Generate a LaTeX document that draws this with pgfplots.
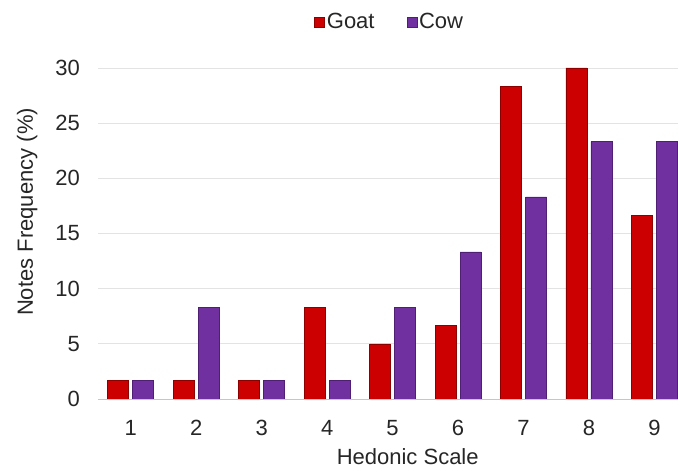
\documentclass[border=0pt]{standalone}
\usepackage{fontspec}
\setmainfont{Liberation Sans}
\usepackage{pgfplots}
\pgfplotsset{compat=1.18}
\definecolor{goat}{HTML}{CC0000}
\definecolor{goatd}{HTML}{8E0000}
\definecolor{cow}{HTML}{7030A0}
\definecolor{cowd}{HTML}{4E1F73}
\begin{document}
\begin{tikzpicture}
\begin{axis}[name=ax, scale only axis, width=580pt, height=331pt,
  ybar=4pt, bar width=21pt,
  xmin=0.5, xmax=9.36, ymin=0, ymax=30,
  xtick={1,...,9}, ytick={0,5,...,30},
  axis lines*=left,
  x axis line style={-, draw=gray!45, line width=0.8pt},
  y axis line style={draw=none},
  ymajorgrids, grid style={gray!22, line width=0.8pt},
  major tick length=0pt,
  /pgf/number format/assume math mode=true,
  tick label style={font=\fontsize{22}{26}\selectfont, inner sep=0pt, text=black!85},
  xticklabel style={yshift=-21pt},
  yticklabel style={xshift=-18pt},
  xlabel={Hedonic Scale}, ylabel={Notes Frequency (\%)},
  label style={font=\fontsize{22}{26}\selectfont, text=black!85},
  xlabel style={at={(axis description cs:0.534,-0.175)}, anchor=center},
  ylabel style={at={(axis description cs:-0.122,0.565)}, anchor=center},
  legend columns=2,
  legend style={at={(axis description cs:0.503,1.139)}, anchor=center, draw=none,
    font=\fontsize{22}{26}\selectfont, text=black!85,
    /tikz/every even column/.append style={column sep=30pt}},
  legend image code/.code={\draw[#1] (0pt,-5pt) rectangle (10pt,5pt);},
]
\addplot[fill=goat, draw=goatd, line width=0.5pt] coordinates {
  (1,1.67) (2,1.67) (3,1.67) (4,8.33) (5,5) (6,6.67) (7,28.33) (8,30) (9,16.67)};
\addplot[fill=cow, draw=cowd, line width=0.5pt] coordinates {
  (1,1.67) (2,8.33) (3,1.67) (4,1.67) (5,8.33) (6,13.33) (7,18.33) (8,23.33) (9,23.33)};
\legend{Goat, Cow}
\end{axis}
\pgfresetboundingbox
\path[use as bounding box] (ax.south west) ++(-98pt,-69pt) rectangle ++(678pt,468pt);
\end{tikzpicture}
\end{document}
